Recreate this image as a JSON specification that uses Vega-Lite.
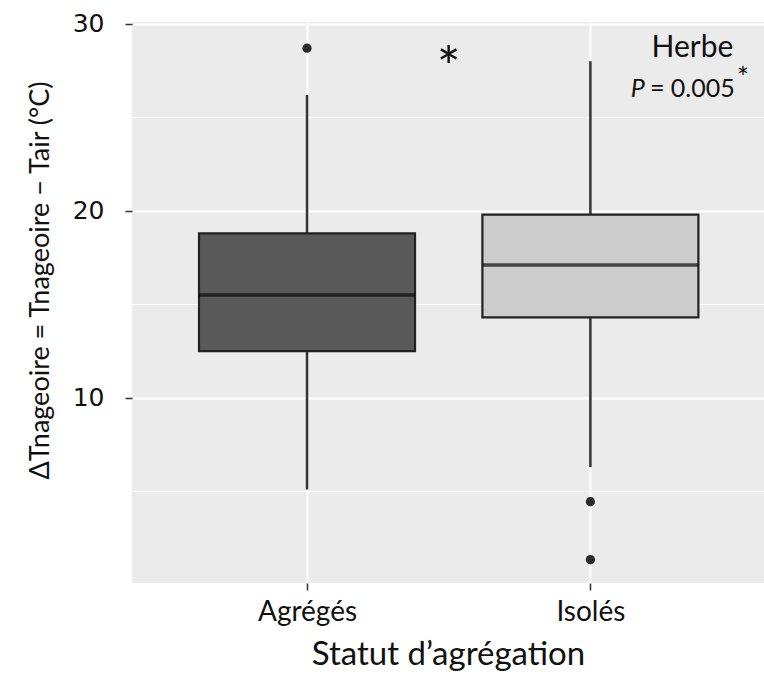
{
  "$schema": "https://vega.github.io/schema/vega-lite/v6.json",
  "width": 632,
  "height": 561,
  "autosize": {"type": "none"},
  "padding": {"left": 132, "top": 22, "right": 0, "bottom": 104},
  "background": "white",
  "config": {"view": {"fill": "#EBEBEB", "stroke": null}, "font": "Lato"},
  "datasets": {
    "boxes": [
      {"statut": "Agrégés", "x": 1, "lower": 5.1, "q1": 12.5, "median": 15.5, "q3": 18.8, "upper": 26.2},
      {"statut": "Isolés", "x": 2, "lower": 6.3, "q1": 14.3, "median": 17.1, "q3": 19.8, "upper": 28.0}
    ],
    "outliers": [
      {"statut": "Agrégés", "x": 1, "value": 28.7},
      {"statut": "Isolés", "x": 2, "value": 4.45},
      {"statut": "Isolés", "x": 2, "value": 1.35}
    ]
  },
  "encoding": {
    "x": {
      "field": "x",
      "type": "quantitative",
      "scale": {"domain": [0.4, 2.595], "nice": false, "zero": false},
      "axis": {
        "values": [1, 2],
        "labelExpr": "datum.value == 1 ? 'Agrégés' : 'Isolés'",
        "grid": true,
        "gridColor": "white",
        "gridWidth": 2,
        "domain": false,
        "tickColor": "#333333",
        "tickSize": 7,
        "tickWidth": 1.5,
        "labelFont": "Lato",
        "labelFontSize": 28,
        "labelColor": "#111111",
        "labelPadding": 8,
        "title": "Statut d’agrégation",
        "titleFont": "Lato",
        "titleFontSize": 33,
        "titleFontWeight": "normal",
        "titleColor": "#111111",
        "titlePadding": 12
      }
    }
  },
  "layer": [
    {
      "data": {"name": "boxes"},
      "mark": {"type": "rule", "color": "#333333", "strokeWidth": 2.5},
      "encoding": {
        "y": {
          "field": "lower",
          "type": "quantitative",
          "scale": {"domain": [0.1, 30.1], "nice": false, "zero": false},
          "axis": {
            "values": [10, 20, 30],
            "grid": true,
            "gridColor": "white",
            "gridWidth": 2,
            "domain": false,
            "tickColor": "#333333",
            "tickSize": 7,
            "tickWidth": 1.5,
            "labelFont": "DejaVu Sans",
            "labelFontSize": 25,
            "labelColor": "#111111",
            "labelPadding": 21,
            "title": "ΔTnageoire = Tnageoire − Tair (°C)",
            "titleFont": "Lato",
            "titleFontSize": 27,
            "titleFontWeight": "normal",
            "titleColor": "#111111",
            "titlePadding": 18,
            "titleY": 258
          }
        },
        "y2": {"field": "q1"}
      }
    },
    {
      "data": {"name": "boxes"},
      "mark": {"type": "rule", "color": "#333333", "strokeWidth": 2.5},
      "encoding": {
        "y": {"field": "q3", "type": "quantitative", "axis": null},
        "y2": {"field": "upper"}
      }
    },
    {
      "data": {"name": "boxes"},
      "mark": {"type": "bar", "width": 216, "stroke": "#222222", "strokeWidth": 2.2},
      "encoding": {
        "y": {"field": "q1", "type": "quantitative", "axis": null},
        "y2": {"field": "q3"},
        "fill": {
          "field": "statut",
          "type": "nominal",
          "scale": {"domain": ["Agrégés", "Isolés"], "range": ["#595959", "#CCCCCC"]},
          "legend": null
        }
      }
    },
    {
      "data": {"name": "boxes"},
      "mark": {"type": "tick", "orient": "horizontal", "size": 216, "thickness": 3.5, "color": "#0a0a0a"},
      "encoding": {
        "y": {"field": "median", "type": "quantitative", "axis": null}
      }
    },
    {
      "data": {"name": "outliers"},
      "mark": {"type": "point", "filled": true, "size": 85, "color": "#2a2a2a", "opacity": 1},
      "encoding": {
        "y": {
          "field": "value",
          "type": "quantitative",
          "axis": {
            "orient": "right",
            "values": [5, 15, 25],
            "grid": true,
            "gridColor": "white",
            "gridWidth": 1,
            "labels": false,
            "ticks": false,
            "domain": false,
            "title": null
          }
        }
      }
    },
    {
      "data": {"values": [{"label": "*", "x": 1.5, "y": 26.6}]},
      "mark": {"type": "text", "fontSize": 56, "font": "Lato", "color": "#111111", "align": "center", "baseline": "alphabetic"},
      "encoding": {
        "text": {"field": "label", "type": "nominal"},
        "y": {"field": "y", "type": "quantitative", "axis": null}
      }
    },
    {
      "data": {"values": [{"label": "Herbe", "x": 2.36, "y": 28.25}]},
      "mark": {"type": "text", "fontSize": 30, "font": "Lato", "color": "#111111", "align": "center", "baseline": "alphabetic"},
      "encoding": {
        "text": {"field": "label", "type": "nominal"},
        "y": {"field": "y", "type": "quantitative", "axis": null}
      }
    },
    {
      "data": {"values": [{"label": "P", "x": 2.21, "y": 26.1}]},
      "mark": {"type": "text", "fontSize": 25, "font": "Lato", "fontStyle": "italic", "color": "#111111", "align": "right", "baseline": "alphabetic", "dx": -5},
      "encoding": {
        "text": {"field": "label", "type": "nominal"},
        "y": {"field": "y", "type": "quantitative", "axis": null}
      }
    },
    {
      "data": {"values": [{"label": "= 0.005", "x": 2.21, "y": 26.1}]},
      "mark": {"type": "text", "fontSize": 25, "font": "Lato", "color": "#111111", "align": "left", "baseline": "alphabetic", "dx": 0},
      "encoding": {
        "text": {"field": "label", "type": "nominal"},
        "y": {"field": "y", "type": "quantitative", "axis": null}
      }
    },
    {
      "data": {"values": [{"label": "*", "x": 2.5, "y": 26.55}]},
      "mark": {"type": "text", "fontSize": 28, "font": "Lato", "color": "#111111", "align": "left", "baseline": "alphabetic", "dx": 5},
      "encoding": {
        "text": {"field": "label", "type": "nominal"},
        "y": {"field": "y", "type": "quantitative", "axis": null}
      }
    }
  ],
  "resolve": {"axis": {"y": "independent"}}
}
